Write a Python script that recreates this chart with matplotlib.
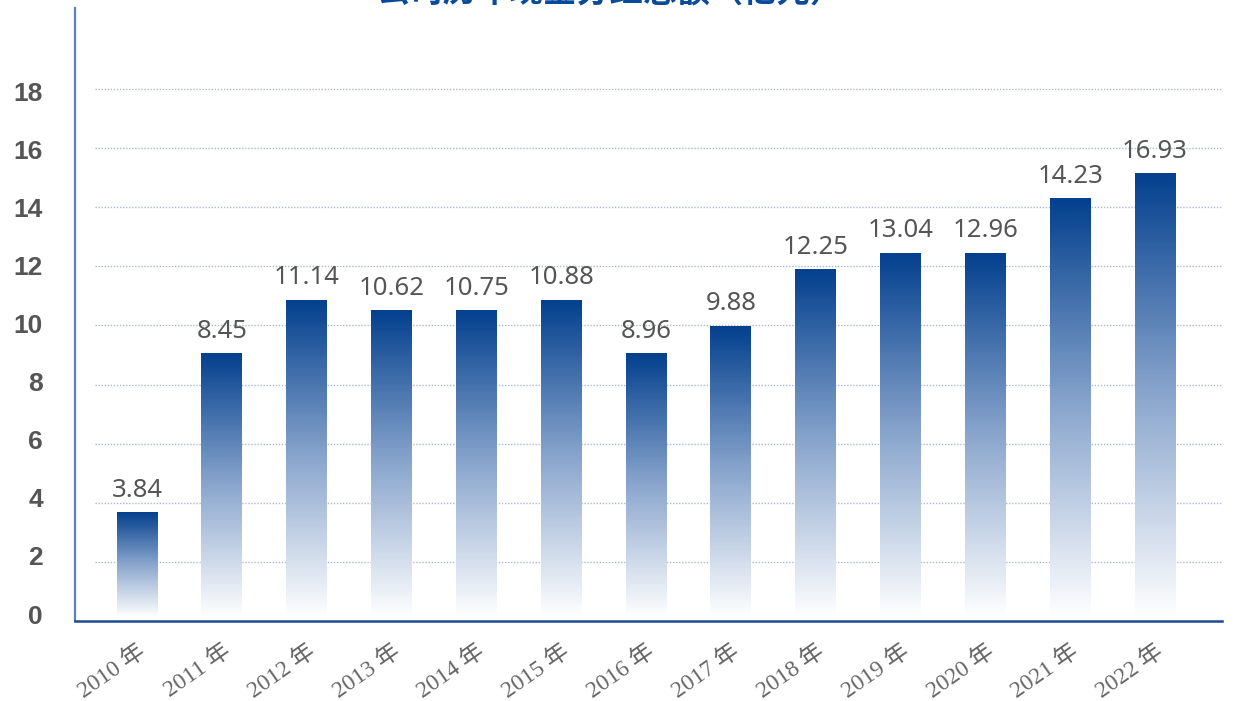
import numpy as np
import matplotlib
matplotlib.use("Agg")
import matplotlib.pyplot as plt
from matplotlib.colors import LinearSegmentedColormap
from matplotlib.transforms import ScaledTranslation

# ---- data ----
years = ["2010 年", "2011 年", "2012 年", "2013 年", "2014 年", "2015 年", "2016 年",
         "2017 年", "2018 年", "2019 年", "2020 年", "2021 年", "2022 年"]
# bar heights as drawn in the picture
bar_heights = [3.65, 9.03, 10.83, 10.49, 10.49, 10.83, 9.03, 9.95, 11.87, 12.42, 12.42, 14.28, 15.12]
# value labels printed above the bars
value_labels = ["3.84", "8.45", "11.14", "10.62", "10.75", "10.88", "8.96",
                "9.88", "12.25", "13.04", "12.96", "14.23", "16.93"]
yticks = [0, 2, 4, 6, 8, 10, 12, 14, 16, 18]
title = "公司历年现金分红总额（亿元）"

W, H = 1233, 701
fig = plt.figure(figsize=(W / 100, H / 100), dpi=100)
ax_left, ax_right = 75 / W, 1222 / W
ax_bottom, ax_top = 1 - 621 / H, 1 - 8 / H
ax = fig.add_axes([ax_left, ax_bottom, ax_right - ax_left, ax_top - ax_bottom])

x = np.arange(len(years))

# grid lines
for t in yticks[1:]:
    ax.hlines(t, -0.5, 12.79, colors="#a9bad8", linestyles=(0, (1, 1.2)), linewidth=1.0, zorder=1)

# gradient bars
cmap = LinearSegmentedColormap.from_list("grad", ["#ffffff", "#8aa6cd", "#03408e"])
grad = np.linspace(0, 1, 256).reshape(-1, 1)
bw = 0.48
for xi, h in zip(x, bar_heights):
    ax.imshow(grad, aspect="auto", cmap=cmap, origin="lower",
              extent=(xi - bw / 2, xi + bw / 2, 0.12, h), zorder=2, interpolation="bilinear")

for xi, h, lab in zip(x, bar_heights, value_labels):
    ax.annotate(lab, (xi, h), xytext=(0, 16.5), textcoords="offset points",
                ha="center", va="center", fontsize=18.5, color="#555555",
                family=["Noto Sans", "DejaVu Sans"], zorder=3)

ax.set_xlim(-0.731, 12.79)
ax.set_ylim(0, 20.74)

# spines
for s in ["top", "right"]:
    ax.spines[s].set_visible(False)
ax.spines["left"].set_color("#5b82bd")
ax.spines["left"].set_linewidth(1.6)
ax.spines["bottom"].set_color("#1c4b93")
ax.spines["bottom"].set_linewidth(1.8)

ax.set_yticks(yticks)
ax.set_yticklabels([str(t) for t in yticks], fontsize=19, fontweight="bold",
                   color="#555555", family=["Liberation Sans Narrow", "Liberation Sans", "DejaVu Sans"])
ax.tick_params(axis="y", length=0, pad=23)
# the labels in the original sit on a slightly tighter scale than the grid
for lbl, t in zip(ax.get_yticklabels(), yticks):
    lbl.set_transform(lbl.get_transform() +
                      ScaledTranslation(0, (7 - 0.55 * t) / 100, fig.dpi_scale_trans))

ax.set_xticks(x)
ax.set_xticklabels(years, rotation=35, ha="right", va="top", rotation_mode="anchor",
                   fontsize=17, color="#666666",
                   family=["Liberation Serif", "Noto Sans CJK SC"])
ax.tick_params(axis="x", length=0, pad=14)

fig.text(610 / W, 1 + 7 / H, title, ha="center", va="center", fontsize=24,
         fontweight="bold", color="#0a4a9a", family=["Noto Sans CJK SC", "DejaVu Sans"])

fig.savefig("out.png", dpi=100)
